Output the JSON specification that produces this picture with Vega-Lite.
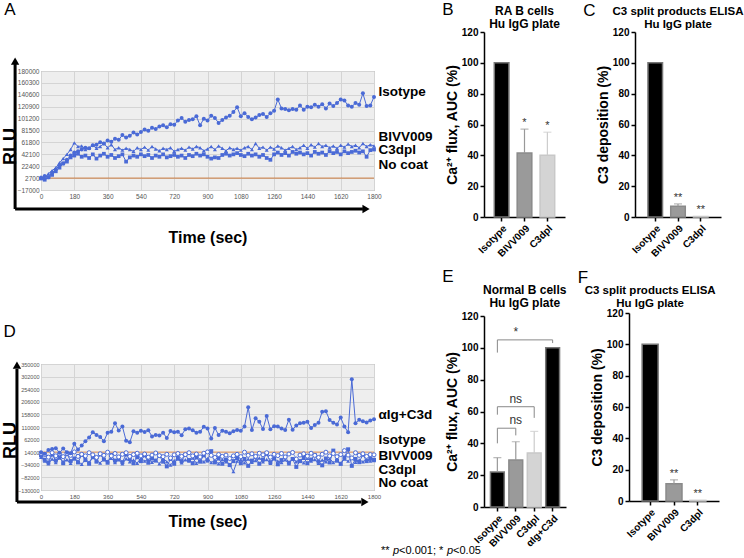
{
"$schema": "https://vega.github.io/schema/vega-lite/v6.json",
"padding": 0,
"config": {"font": "Liberation Sans", "view": {"stroke": null}, "axis": {"labelOverlap": false}, "title": {"fontWeight": "normal", "fontSize": 17, "anchor": "start", "frame": "bounds", "color": "#000"}},
"datasets": {
"aNo": [{"t":0,"v":2700},{"t":1800,"v":2700}],
"dNo": [{"t":0,"v":14000},{"t":1800,"v":14000}],
"aIso": [{"t":0,"v":3000},{"t":20,"v":6000},{"t":40,"v":4000},{"t":60,"v":12000},{"t":80,"v":17000},{"t":100,"v":24000},{"t":120,"v":27000},{"t":140,"v":33000},{"t":160,"v":40000},{"t":180,"v":45000},{"t":200,"v":47000},{"t":220,"v":50000},{"t":240,"v":53000},{"t":260,"v":52000},{"t":280,"v":57000},{"t":300,"v":58000},{"t":320,"v":62000},{"t":340,"v":60000},{"t":360,"v":65000},{"t":380,"v":63000},{"t":400,"v":68000},{"t":420,"v":66000},{"t":440,"v":74000},{"t":460,"v":70000},{"t":480,"v":73000},{"t":500,"v":78000},{"t":520,"v":75000},{"t":540,"v":79000},{"t":560,"v":83000},{"t":580,"v":81000},{"t":600,"v":86000},{"t":620,"v":84000},{"t":640,"v":88000},{"t":660,"v":90000},{"t":680,"v":87000},{"t":700,"v":92000},{"t":720,"v":91000},{"t":740,"v":98000},{"t":760,"v":102000},{"t":780,"v":96000},{"t":800,"v":99000},{"t":820,"v":100000},{"t":840,"v":105000},{"t":860,"v":90000},{"t":880,"v":101000},{"t":900,"v":98000},{"t":920,"v":106000},{"t":940,"v":102000},{"t":960,"v":94000},{"t":980,"v":99000},{"t":1000,"v":103000},{"t":1020,"v":106000},{"t":1040,"v":112000},{"t":1060,"v":120000},{"t":1080,"v":105000},{"t":1100,"v":110000},{"t":1120,"v":104000},{"t":1140,"v":100000},{"t":1160,"v":103000},{"t":1180,"v":107000},{"t":1200,"v":109000},{"t":1220,"v":104000},{"t":1240,"v":110000},{"t":1260,"v":114000},{"t":1280,"v":133000},{"t":1300,"v":118000},{"t":1320,"v":117000},{"t":1340,"v":115000},{"t":1360,"v":117000},{"t":1380,"v":116000},{"t":1400,"v":123000},{"t":1420,"v":116000},{"t":1440,"v":121000},{"t":1460,"v":120000},{"t":1480,"v":124000},{"t":1500,"v":121000},{"t":1520,"v":125000},{"t":1540,"v":118000},{"t":1560,"v":126000},{"t":1580,"v":122000},{"t":1600,"v":127000},{"t":1620,"v":133000},{"t":1640,"v":131000},{"t":1660,"v":123000},{"t":1680,"v":121000},{"t":1700,"v":127000},{"t":1720,"v":124000},{"t":1740,"v":143000},{"t":1760,"v":122000},{"t":1780,"v":123000},{"t":1800,"v":137000}],
"aBiv": [{"t":0,"v":5000},{"t":20,"v":3000},{"t":40,"v":10000},{"t":60,"v":15000},{"t":80,"v":20000},{"t":100,"v":28000},{"t":120,"v":35000},{"t":140,"v":42000},{"t":160,"v":50000},{"t":180,"v":61000},{"t":200,"v":55000},{"t":220,"v":56000},{"t":240,"v":50000},{"t":260,"v":52000},{"t":280,"v":57000},{"t":300,"v":52000},{"t":320,"v":55000},{"t":340,"v":60000},{"t":360,"v":53000},{"t":380,"v":58000},{"t":400,"v":50000},{"t":420,"v":53000},{"t":440,"v":49000},{"t":460,"v":52000},{"t":480,"v":50000},{"t":500,"v":47000},{"t":520,"v":53000},{"t":540,"v":50000},{"t":560,"v":54000},{"t":580,"v":49000},{"t":600,"v":55000},{"t":620,"v":51000},{"t":640,"v":48000},{"t":660,"v":52000},{"t":680,"v":50000},{"t":700,"v":53000},{"t":720,"v":47000},{"t":740,"v":50000},{"t":760,"v":52000},{"t":780,"v":49000},{"t":800,"v":54000},{"t":820,"v":51000},{"t":840,"v":55000},{"t":860,"v":53000},{"t":880,"v":48000},{"t":900,"v":51000},{"t":920,"v":55000},{"t":940,"v":50000},{"t":960,"v":56000},{"t":980,"v":52000},{"t":1000,"v":48000},{"t":1020,"v":53000},{"t":1040,"v":50000},{"t":1060,"v":52000},{"t":1080,"v":49000},{"t":1100,"v":53000},{"t":1120,"v":55000},{"t":1140,"v":50000},{"t":1160,"v":60000},{"t":1180,"v":52000},{"t":1200,"v":54000},{"t":1220,"v":49000},{"t":1240,"v":54000},{"t":1260,"v":51000},{"t":1280,"v":56000},{"t":1300,"v":53000},{"t":1320,"v":49000},{"t":1340,"v":52000},{"t":1360,"v":55000},{"t":1380,"v":50000},{"t":1400,"v":53000},{"t":1420,"v":57000},{"t":1440,"v":52000},{"t":1460,"v":58000},{"t":1480,"v":54000},{"t":1500,"v":60000},{"t":1520,"v":55000},{"t":1540,"v":57000},{"t":1560,"v":53000},{"t":1580,"v":56000},{"t":1600,"v":52000},{"t":1620,"v":57000},{"t":1640,"v":54000},{"t":1660,"v":59000},{"t":1680,"v":55000},{"t":1700,"v":57000},{"t":1720,"v":53000},{"t":1740,"v":60000},{"t":1760,"v":55000},{"t":1780,"v":58000},{"t":1800,"v":56000}],
"aC3": [{"t":0,"v":2000},{"t":20,"v":0},{"t":40,"v":4000},{"t":60,"v":8000},{"t":80,"v":14000},{"t":100,"v":20000},{"t":120,"v":27000},{"t":140,"v":30000},{"t":160,"v":37000},{"t":180,"v":40000},{"t":200,"v":43000},{"t":220,"v":38000},{"t":240,"v":40000},{"t":260,"v":36000},{"t":280,"v":42000},{"t":300,"v":35000},{"t":320,"v":40000},{"t":340,"v":43000},{"t":360,"v":38000},{"t":380,"v":41000},{"t":400,"v":36000},{"t":420,"v":39000},{"t":440,"v":42000},{"t":460,"v":30000},{"t":480,"v":37000},{"t":500,"v":40000},{"t":520,"v":38000},{"t":540,"v":42000},{"t":560,"v":39000},{"t":580,"v":41000},{"t":600,"v":36000},{"t":620,"v":40000},{"t":640,"v":38000},{"t":660,"v":42000},{"t":680,"v":37000},{"t":700,"v":39000},{"t":720,"v":41000},{"t":740,"v":38000},{"t":760,"v":40000},{"t":780,"v":36000},{"t":800,"v":41000},{"t":820,"v":39000},{"t":840,"v":43000},{"t":860,"v":40000},{"t":880,"v":42000},{"t":900,"v":38000},{"t":920,"v":35000},{"t":940,"v":37000},{"t":960,"v":36000},{"t":980,"v":41000},{"t":1000,"v":43000},{"t":1020,"v":40000},{"t":1040,"v":42000},{"t":1060,"v":44000},{"t":1080,"v":41000},{"t":1100,"v":39000},{"t":1120,"v":43000},{"t":1140,"v":40000},{"t":1160,"v":42000},{"t":1180,"v":38000},{"t":1200,"v":41000},{"t":1220,"v":36000},{"t":1240,"v":33000},{"t":1260,"v":42000},{"t":1280,"v":45000},{"t":1300,"v":41000},{"t":1320,"v":44000},{"t":1340,"v":40000},{"t":1360,"v":46000},{"t":1380,"v":43000},{"t":1400,"v":45000},{"t":1420,"v":42000},{"t":1440,"v":44000},{"t":1460,"v":40000},{"t":1480,"v":46000},{"t":1500,"v":43000},{"t":1520,"v":45000},{"t":1540,"v":41000},{"t":1560,"v":47000},{"t":1580,"v":44000},{"t":1600,"v":46000},{"t":1620,"v":42000},{"t":1640,"v":47000},{"t":1660,"v":44000},{"t":1680,"v":46000},{"t":1700,"v":48000},{"t":1720,"v":45000},{"t":1740,"v":47000},{"t":1760,"v":38000},{"t":1780,"v":49000},{"t":1800,"v":50000}],
"dIg": [{"t":0,"v":14000},{"t":20,"v":8000},{"t":40,"v":22000},{"t":60,"v":26000},{"t":80,"v":29000},{"t":100,"v":12000},{"t":120,"v":28000},{"t":140,"v":14000},{"t":160,"v":10000},{"t":180,"v":46000},{"t":200,"v":24000},{"t":220,"v":40000},{"t":240,"v":56000},{"t":260,"v":70000},{"t":280,"v":90000},{"t":300,"v":80000},{"t":320,"v":72000},{"t":340,"v":56000},{"t":360,"v":88000},{"t":380,"v":92000},{"t":400,"v":124000},{"t":420,"v":97000},{"t":440,"v":112000},{"t":460,"v":58000},{"t":480,"v":52000},{"t":500,"v":94000},{"t":520,"v":88000},{"t":540,"v":96000},{"t":560,"v":91000},{"t":580,"v":98000},{"t":600,"v":74000},{"t":620,"v":80000},{"t":640,"v":78000},{"t":660,"v":88000},{"t":680,"v":68000},{"t":700,"v":95000},{"t":720,"v":90000},{"t":740,"v":92000},{"t":760,"v":79000},{"t":780,"v":101000},{"t":800,"v":104000},{"t":820,"v":98000},{"t":840,"v":88000},{"t":860,"v":92000},{"t":880,"v":111000},{"t":900,"v":104000},{"t":920,"v":66000},{"t":940,"v":106000},{"t":960,"v":80000},{"t":980,"v":96000},{"t":1000,"v":92000},{"t":1020,"v":86000},{"t":1040,"v":94000},{"t":1060,"v":99000},{"t":1080,"v":96000},{"t":1100,"v":112000},{"t":1120,"v":185000},{"t":1140,"v":99000},{"t":1160,"v":143000},{"t":1180,"v":130000},{"t":1200,"v":102000},{"t":1220,"v":152000},{"t":1240,"v":101000},{"t":1260,"v":113000},{"t":1280,"v":112000},{"t":1300,"v":104000},{"t":1320,"v":99000},{"t":1340,"v":138000},{"t":1360,"v":100000},{"t":1380,"v":116000},{"t":1400,"v":124000},{"t":1420,"v":126000},{"t":1440,"v":130000},{"t":1460,"v":106000},{"t":1480,"v":118000},{"t":1500,"v":126000},{"t":1520,"v":168000},{"t":1540,"v":170000},{"t":1560,"v":137000},{"t":1580,"v":126000},{"t":1600,"v":120000},{"t":1620,"v":146000},{"t":1640,"v":112000},{"t":1660,"v":90000},{"t":1680,"v":292000},{"t":1700,"v":124000},{"t":1720,"v":138000},{"t":1740,"v":132000},{"t":1760,"v":127000},{"t":1780,"v":135000},{"t":1800,"v":140000}],
"dIso": [{"t":0,"v":10000},{"t":20,"v":5000},{"t":40,"v":-5000},{"t":60,"v":12000},{"t":80,"v":0},{"t":100,"v":8000},{"t":120,"v":-3000},{"t":140,"v":10000},{"t":160,"v":2000},{"t":180,"v":15000},{"t":200,"v":-2000},{"t":220,"v":6000},{"t":240,"v":0},{"t":260,"v":12000},{"t":280,"v":4000},{"t":300,"v":-6000},{"t":320,"v":8000},{"t":340,"v":2000},{"t":360,"v":14000},{"t":380,"v":0},{"t":400,"v":9000},{"t":420,"v":-4000},{"t":440,"v":6000},{"t":460,"v":12000},{"t":480,"v":-2000},{"t":500,"v":5000},{"t":520,"v":10000},{"t":540,"v":0},{"t":560,"v":7000},{"t":580,"v":-5000},{"t":600,"v":3000},{"t":620,"v":11000},{"t":640,"v":1000},{"t":660,"v":-3000},{"t":680,"v":6000},{"t":700,"v":-8000},{"t":720,"v":4000},{"t":740,"v":9000},{"t":760,"v":-2000},{"t":780,"v":5000},{"t":800,"v":12000},{"t":820,"v":0},{"t":840,"v":7000},{"t":860,"v":-4000},{"t":880,"v":10000},{"t":900,"v":15000},{"t":920,"v":2000},{"t":940,"v":-6000},{"t":960,"v":5000},{"t":980,"v":-2000},{"t":1000,"v":3000},{"t":1020,"v":-10000},{"t":1040,"v":0},{"t":1060,"v":6000},{"t":1080,"v":-3000},{"t":1100,"v":14000},{"t":1120,"v":2000},{"t":1140,"v":8000},{"t":1160,"v":-2000},{"t":1180,"v":10000},{"t":1200,"v":4000},{"t":1220,"v":12000},{"t":1240,"v":-5000},{"t":1260,"v":6000},{"t":1280,"v":1000},{"t":1300,"v":9000},{"t":1320,"v":-4000},{"t":1340,"v":7000},{"t":1360,"v":13000},{"t":1380,"v":-12000},{"t":1400,"v":3000},{"t":1420,"v":8000},{"t":1440,"v":-1000},{"t":1460,"v":10000},{"t":1480,"v":2000},{"t":1500,"v":-6000},{"t":1520,"v":6000},{"t":1540,"v":14000},{"t":1560,"v":0},{"t":1580,"v":9000},{"t":1600,"v":-3000},{"t":1620,"v":5000},{"t":1640,"v":20000},{"t":1660,"v":3000},{"t":1680,"v":-8000},{"t":1700,"v":12000},{"t":1720,"v":2000},{"t":1740,"v":8000},{"t":1760,"v":-2000},{"t":1780,"v":5000},{"t":1800,"v":4000}],
"dBiv": [{"t":0,"v":-5000},{"t":20,"v":-20000},{"t":40,"v":-30000},{"t":60,"v":-12000},{"t":80,"v":-25000},{"t":100,"v":-8000},{"t":120,"v":-22000},{"t":140,"v":-15000},{"t":160,"v":-28000},{"t":180,"v":-10000},{"t":200,"v":-20000},{"t":220,"v":-32000},{"t":240,"v":-14000},{"t":260,"v":-24000},{"t":280,"v":-6000},{"t":300,"v":-18000},{"t":320,"v":-27000},{"t":340,"v":-12000},{"t":360,"v":-20000},{"t":380,"v":-9000},{"t":400,"v":-25000},{"t":420,"v":-15000},{"t":440,"v":-30000},{"t":460,"v":-11000},{"t":480,"v":-22000},{"t":500,"v":-16000},{"t":520,"v":-28000},{"t":540,"v":-8000},{"t":560,"v":-20000},{"t":580,"v":-13000},{"t":600,"v":-24000},{"t":620,"v":-17000},{"t":640,"v":-30000},{"t":660,"v":-10000},{"t":680,"v":-22000},{"t":700,"v":-35000},{"t":720,"v":-18000},{"t":740,"v":-12000},{"t":760,"v":-26000},{"t":780,"v":-15000},{"t":800,"v":-20000},{"t":820,"v":-8000},{"t":840,"v":-28000},{"t":860,"v":-16000},{"t":880,"v":-22000},{"t":900,"v":-10000},{"t":920,"v":-25000},{"t":940,"v":-18000},{"t":960,"v":-30000},{"t":980,"v":-14000},{"t":1000,"v":-22000},{"t":1020,"v":-33000},{"t":1040,"v":-60000},{"t":1060,"v":-20000},{"t":1080,"v":-15000},{"t":1100,"v":-26000},{"t":1120,"v":-12000},{"t":1140,"v":-24000},{"t":1160,"v":-18000},{"t":1180,"v":-8000},{"t":1200,"v":-22000},{"t":1220,"v":-14000},{"t":1240,"v":-28000},{"t":1260,"v":-10000},{"t":1280,"v":-20000},{"t":1300,"v":-25000},{"t":1320,"v":-15000},{"t":1340,"v":-30000},{"t":1360,"v":-12000},{"t":1380,"v":-22000},{"t":1400,"v":-18000},{"t":1420,"v":-26000},{"t":1440,"v":-9000},{"t":1460,"v":-20000},{"t":1480,"v":-14000},{"t":1500,"v":-28000},{"t":1520,"v":-16000},{"t":1540,"v":-22000},{"t":1560,"v":-10000},{"t":1580,"v":-25000},{"t":1600,"v":-18000},{"t":1620,"v":-30000},{"t":1640,"v":-12000},{"t":1660,"v":-20000},{"t":1680,"v":-8000},{"t":1700,"v":-24000},{"t":1720,"v":-16000},{"t":1740,"v":-22000},{"t":1760,"v":-14000},{"t":1780,"v":-20000},{"t":1800,"v":-18000}],
"dC3": [{"t":0,"v":2000},{"t":20,"v":-15000},{"t":40,"v":-25000},{"t":60,"v":5000},{"t":80,"v":-18000},{"t":100,"v":-3000},{"t":120,"v":-28000},{"t":140,"v":8000},{"t":160,"v":-20000},{"t":180,"v":-10000},{"t":200,"v":-25000},{"t":220,"v":4000},{"t":240,"v":-16000},{"t":260,"v":-30000},{"t":280,"v":-2000},{"t":300,"v":-22000},{"t":320,"v":6000},{"t":340,"v":-14000},{"t":360,"v":-26000},{"t":380,"v":3000},{"t":400,"v":-18000},{"t":420,"v":-8000},{"t":440,"v":-24000},{"t":460,"v":5000},{"t":480,"v":-12000},{"t":500,"v":-28000},{"t":520,"v":-5000},{"t":540,"v":-20000},{"t":560,"v":2000},{"t":580,"v":-26000},{"t":600,"v":-10000},{"t":620,"v":-18000},{"t":640,"v":0},{"t":660,"v":-22000},{"t":680,"v":-40000},{"t":700,"v":-12000},{"t":720,"v":-30000},{"t":740,"v":-8000},{"t":760,"v":-20000},{"t":780,"v":4000},{"t":800,"v":-16000},{"t":820,"v":-28000},{"t":840,"v":-6000},{"t":860,"v":-22000},{"t":880,"v":2000},{"t":900,"v":-18000},{"t":920,"v":18000},{"t":940,"v":-25000},{"t":960,"v":-10000},{"t":980,"v":-30000},{"t":1000,"v":-15000},{"t":1020,"v":-35000},{"t":1040,"v":-20000},{"t":1060,"v":-8000},{"t":1080,"v":-28000},{"t":1100,"v":-12000},{"t":1120,"v":-38000},{"t":1140,"v":-18000},{"t":1160,"v":-5000},{"t":1180,"v":-30000},{"t":1200,"v":-14000},{"t":1220,"v":8000},{"t":1240,"v":-24000},{"t":1260,"v":-10000},{"t":1280,"v":-32000},{"t":1300,"v":-16000},{"t":1320,"v":-4000},{"t":1340,"v":-26000},{"t":1360,"v":-12000},{"t":1380,"v":-42000},{"t":1400,"v":-20000},{"t":1420,"v":-8000},{"t":1440,"v":-28000},{"t":1460,"v":-14000},{"t":1480,"v":3000},{"t":1500,"v":-22000},{"t":1520,"v":-36000},{"t":1540,"v":-10000},{"t":1560,"v":-25000},{"t":1580,"v":20000},{"t":1600,"v":-18000},{"t":1620,"v":-30000},{"t":1640,"v":-6000},{"t":1660,"v":25000},{"t":1680,"v":-38000},{"t":1700,"v":-12000},{"t":1720,"v":-24000},{"t":1740,"v":5000},{"t":1760,"v":-20000},{"t":1780,"v":-10000},{"t":1800,"v":-15000}],
"bB": [{"g":"Isotype","m":100,"hi":100,"star":""},{"g":"BIVV009","m":41.5,"hi":57,"star":"*"},{"g":"C3dpl","m":40,"hi":55,"star":"*"}],
"cB": [{"g":"Isotype","m":100,"hi":100,"star":""},{"g":"BIVV009","m":7,"hi":8.5,"star":"**"},{"g":"C3dpl","m":0.4,"hi":0.4,"star":"**"}],
"eB": [{"g":"Isotype","m":22,"hi":31},{"g":"BIVV009","m":29.5,"hi":41},{"g":"C3dpl","m":34,"hi":47.5},{"g":"αIg+C3d","m":100,"hi":100}],
"eBr": [{"a":"Isotype","b":"BIVV009","y":49.5,"ya":40,"yb":45,"lab":"ns"},{"a":"Isotype","b":"C3dpl","y":63,"ya":58,"yb":56,"lab":"ns"},{"a":"Isotype","b":"αIg+C3d","y":105,"ya":97,"yb":103,"lab":"*"}],
"fB": [{"g":"Isotype","m":100,"hi":100,"star":""},{"g":"BIVV009","m":11,"hi":13.5,"star":"**"},{"g":"C3dpl","m":0.4,"hi":0.4,"star":"**"}]
},
"columns": 3,
"align": "none",
"bounds": "flush",
"spacing": {"row": 174, "column": 110},
"concat": [
{
 "width": 333, "height": 119,
 "view": {"fill": "#eeeeee", "stroke": "#9a9a9a"},
 "title": {"text": "A", "offset": 38, "dx": 3},
 "layer": [
  {"data": {"name": "aNo"}, "mark": {"type": "line", "color": "#cc7a3c", "strokeWidth": 1},
   "encoding": {
    "x": {"field": "t", "type": "quantitative", "scale": {"domain": [0, 1800], "nice": false, "zero": false},
      "axis": {"values": [0,180,360,540,720,900,1080,1260,1440,1620,1800], "tickCount": 30, "format": "d", "labelFontSize": 6.5, "labelColor": "#555", "ticks": false, "domain": false, "gridColor": "#d4d4d4", "labelPadding": 3, "labelFlush": false, "labelOverlap": false, "title": "Time (sec)", "titleFontSize": 16, "titleFontWeight": "bold", "titleColor": "#000", "titlePadding": 30}},
    "y": {"field": "v", "type": "quantitative", "scale": {"domain": [-17000, 180000], "nice": false, "zero": false},
      "axis": {"values": [180000,160300,140600,120900,101200,81500,61800,42100,22400,2700,-17000], "tickCount": 30, "format": "d", "labelFontSize": 6.5, "labelColor": "#555", "ticks": false, "domain": false, "gridColor": "#d4d4d4", "labelPadding": 2, "labelFlush": false, "labelOverlap": false, "title": "RLU", "titleFontSize": 18, "titleFontWeight": "bold", "titleColor": "#000", "titlePadding": -2, "titleY": 75}}
   }},
  {"data": {"name": "aC3"}, "encoding": {"x": {"field": "t", "type": "quantitative"}, "y": {"field": "v", "type": "quantitative", "axis": null}},
   "layer": [{"mark": {"type": "line", "color": "#4a6ad6", "strokeWidth": 1}}, {"mark": {"type": "point", "shape": "square", "filled": true, "opacity": 1, "color": "#4a6ad6", "size": 14}}]},
  {"data": {"name": "aBiv"}, "encoding": {"x": {"field": "t", "type": "quantitative"}, "y": {"field": "v", "type": "quantitative", "axis": null}},
   "layer": [{"mark": {"type": "line", "color": "#4a6ad6", "strokeWidth": 1}}, {"mark": {"type": "point", "shape": "triangle-up", "filled": true, "opacity": 1, "color": "#4a6ad6", "size": 16}}]},
  {"data": {"name": "aIso"}, "encoding": {"x": {"field": "t", "type": "quantitative"}, "y": {"field": "v", "type": "quantitative", "axis": null}},
   "layer": [{"mark": {"type": "line", "color": "#4a6ad6", "strokeWidth": 1}}, {"mark": {"type": "point", "shape": "circle", "filled": true, "opacity": 1, "color": "#4a6ad6", "size": 16}}]},
  {"data": {"values": [{}]}, "mark": {"type": "rule", "color": "#000", "strokeWidth": 3},
   "encoding": {"x": {"datum": -140}, "y": {"datum": -48460, "axis": {"orient": "right", "values": [145300, 72390, 49220, 26040], "tickCount": 30, "labelExpr": "datum.value == 145300 ? 'Isotype' : datum.value == 72390 ? 'BIVV009' : datum.value == 49220 ? 'C3dpl' : 'No coat'", "labelFontSize": 13.5, "labelFontWeight": "bold", "labelColor": "#000", "labelPadding": 4, "ticks": false, "domain": false, "grid": false, "title": null, "labelFlush": false, "labelOverlap": false, "labelBaseline": "middle"}}, "y2": {"datum": 191600}}},
  {"data": {"values": [{}]}, "mark": {"type": "rule", "color": "#000", "strokeWidth": 3},
   "encoding": {"x": {"datum": -140}, "x2": {"datum": 1740}, "y": {"datum": -48460, "axis": null}}},
  {"data": {"values": [{}]}, "mark": {"type": "point", "shape": "triangle-up", "filled": true, "color": "#000", "opacity": 1, "size": 70},
   "encoding": {"x": {"datum": -140}, "y": {"datum": 196500, "axis": null}}},
  {"data": {"values": [{}]}, "mark": {"type": "point", "shape": "triangle-right", "filled": true, "color": "#000", "opacity": 1, "size": 70},
   "encoding": {"x": {"datum": 1757}, "y": {"datum": -48460, "axis": null}}}
 ],
 "resolve": {"axis": {"y": "independent"}}
},
{
 "width": 41, "height": 71,
 "title": {"text": "B", "offset": -14, "dx": -3},
 "layer": [
  {"data": {"name": "bB"}, "mark": {"type": "bar", "strokeWidth": 1.5},
   "encoding": {
    "x": {"field": "g", "type": "nominal", "scale": {"domain": ["Isotype","BIVV009","C3dpl"], "range": [0, 81], "paddingInner": 0.36, "paddingOuter": 0.45},
      "axis": {"labelAngle": -45, "labelFontSize": 10, "labelFontWeight": "bold", "labelColor": "#000", "domainColor": "#000", "domainWidth": 1.5, "tickColor": "#000", "tickWidth": 1.5, "tickSize": 4, "offset": 75, "title": null, "labelPadding": 2}},
    "y": {"field": "m", "type": "quantitative", "scale": {"domain": [0, 120], "range": [146, -39], "nice": false},
      "axis": {"values": [0,20,40,60,80,100,120], "tickCount": 30, "grid": false, "labelFontSize": 10, "labelFontWeight": "bold", "labelColor": "#000", "domainColor": "#000", "domainWidth": 1.5, "tickColor": "#000", "tickWidth": 1.5, "tickSize": 4, "labelFlush": false, "labelOverlap": false, "title": "Ca²⁺ flux,  AUC (%)", "titleFontSize": 14, "titleFontWeight": "bold", "titleColor": "#000", "titlePadding": 2}},
    "fill": {"field": "g", "type": "nominal", "scale": {"domain": ["Isotype","BIVV009","C3dpl"], "range": ["#000000","#9a9a9a","#d4d4d4"]}, "legend": null},
    "stroke": {"field": "g", "type": "nominal", "scale": {"domain": ["Isotype","BIVV009","C3dpl"], "range": ["#777777","#8a8a8a","#c8c8c8"]}, "legend": null}
   }},
  {"data": {"name": "bB"}, "transform": [{"filter": "datum.hi > datum.m"}], "mark": {"type": "rule", "strokeWidth": 1.2},
   "encoding": {"x": {"field": "g", "type": "nominal"}, "y": {"field": "m", "type": "quantitative"}, "y2": {"field": "hi"}, "color": {"field": "g", "type": "nominal", "scale": {"domain": ["Isotype","BIVV009","C3dpl"], "range": ["#999999","#999999","#cccccc"]}, "legend": null}}},
  {"data": {"name": "bB"}, "transform": [{"filter": "datum.hi > datum.m"}], "mark": {"type": "tick", "thickness": 1.2, "size": 8},
   "encoding": {"x": {"field": "g", "type": "nominal"}, "y": {"field": "hi", "type": "quantitative"}, "color": {"field": "g", "type": "nominal", "legend": null}}},
  {"data": {"name": "bB"}, "transform": [{"filter": "datum.star != ''"}], "mark": {"type": "text", "baseline": "bottom", "dy": -1, "fontSize": 11, "color": "#333"},
   "encoding": {"x": {"field": "g", "type": "nominal"}, "y": {"field": "hi", "type": "quantitative"}, "text": {"field": "star"}}},
  {"data": {"values": [{}]}, "mark": {"type": "text", "fontSize": 12, "fontWeight": "bold", "lineHeight": 12.5, "baseline": "alphabetic", "color": "#000"},
   "encoding": {"x": {"datum": "BIVV009"}, "y": {"datum": 131}, "text": {"value": ["RA B cells", "Hu IgG plate"]}}}
 ]
},
{
 "width": 41, "height": 68,
 "title": {"text": "C", "offset": -14, "dx": -13},
 "layer": [
  {"data": {"name": "cB"}, "mark": {"type": "bar", "strokeWidth": 1.5},
   "encoding": {
    "x": {"field": "g", "type": "nominal", "scale": {"domain": ["Isotype","BIVV009","C3dpl"], "range": [0, 86], "paddingInner": 0.36, "paddingOuter": 0.57},
      "axis": {"labelAngle": -45, "labelFontSize": 10, "labelFontWeight": "bold", "labelColor": "#000", "domainColor": "#000", "domainWidth": 1.5, "tickColor": "#000", "tickWidth": 1.5, "tickSize": 4, "offset": 78, "title": null, "labelPadding": 2}},
    "y": {"field": "m", "type": "quantitative", "scale": {"domain": [0, 120], "range": [146, -39], "nice": false},
      "axis": {"values": [0,20,40,60,80,100,120], "tickCount": 30, "grid": false, "labelFontSize": 10, "labelFontWeight": "bold", "labelColor": "#000", "domainColor": "#000", "domainWidth": 1.5, "tickColor": "#000", "tickWidth": 1.5, "tickSize": 4, "labelFlush": false, "labelOverlap": false, "title": "C3 deposition (%)", "titleFontSize": 14, "titleFontWeight": "bold", "titleColor": "#000", "titlePadding": 2}},
    "fill": {"field": "g", "type": "nominal", "scale": {"domain": ["Isotype","BIVV009","C3dpl"], "range": ["#000000","#9a9a9a","#d4d4d4"]}, "legend": null},
    "stroke": {"field": "g", "type": "nominal", "scale": {"domain": ["Isotype","BIVV009","C3dpl"], "range": ["#777777","#8a8a8a","#c8c8c8"]}, "legend": null}
   }},
  {"data": {"name": "cB"}, "transform": [{"filter": "datum.hi > datum.m"}], "mark": {"type": "rule", "strokeWidth": 1.2},
   "encoding": {"x": {"field": "g", "type": "nominal"}, "y": {"field": "m", "type": "quantitative"}, "y2": {"field": "hi"}, "color": {"field": "g", "type": "nominal", "scale": {"domain": ["Isotype","BIVV009","C3dpl"], "range": ["#999999","#999999","#cccccc"]}, "legend": null}}},
  {"data": {"name": "cB"}, "transform": [{"filter": "datum.hi > datum.m"}], "mark": {"type": "tick", "thickness": 1.2, "size": 8},
   "encoding": {"x": {"field": "g", "type": "nominal"}, "y": {"field": "hi", "type": "quantitative"}, "color": {"field": "g", "type": "nominal", "legend": null}}},
  {"data": {"name": "cB"}, "transform": [{"filter": "datum.star != ''"}], "mark": {"type": "text", "baseline": "bottom", "dy": -1, "fontSize": 11, "color": "#333"},
   "encoding": {"x": {"field": "g", "type": "nominal"}, "y": {"field": "hi", "type": "quantitative"}, "text": {"field": "star"}}},
  {"data": {"values": [{}]}, "mark": {"type": "text", "fontSize": 11.5, "fontWeight": "bold", "lineHeight": 12.5, "baseline": "alphabetic", "color": "#000"},
   "encoding": {"x": {"datum": "BIVV009"}, "y": {"datum": 131}, "text": {"value": ["C3 split products ELISA", "Hu IgG plate"]}}}
 ]
},
{
 "width": 333, "height": 126,
 "view": {"fill": "#eeeeee", "stroke": "#9a9a9a"},
 "title": {"text": "D", "offset": 20, "dx": 2},
 "layer": [
  {"data": {"name": "dNo"}, "mark": {"type": "line", "color": "#e0a070", "strokeWidth": 1.2},
   "encoding": {
    "x": {"field": "t", "type": "quantitative", "scale": {"domain": [0, 1800], "nice": false, "zero": false},
      "axis": {"values": [0,180,360,540,720,900,1080,1260,1440,1620,1800], "tickCount": 30, "format": "d", "labelFontSize": 6, "labelColor": "#555", "ticks": false, "domain": false, "gridColor": "#d4d4d4", "labelPadding": 3, "labelFlush": false, "labelOverlap": false, "title": "Time (sec)", "titleFontSize": 16, "titleFontWeight": "bold", "titleColor": "#000", "titlePadding": 14}},
    "y": {"field": "v", "type": "quantitative", "scale": {"domain": [-130000, 350000], "nice": false, "zero": false},
      "axis": {"values": [350000,302000,254000,206000,158000,110000,62000,14000,-34000,-82000,-130000], "tickCount": 30, "format": "d", "labelFontSize": 5.5, "labelColor": "#555", "ticks": false, "domain": false, "gridColor": "#d4d4d4", "labelPadding": 2, "labelFlush": false, "labelOverlap": false, "title": "RLU", "titleFontSize": 18, "titleFontWeight": "bold", "titleColor": "#000", "titlePadding": -2, "titleY": 76}}
   }},
  {"data": {"name": "dBiv"}, "encoding": {"x": {"field": "t", "type": "quantitative"}, "y": {"field": "v", "type": "quantitative", "axis": null}},
   "layer": [{"mark": {"type": "line", "color": "#4a6ad6", "strokeWidth": 1}}, {"mark": {"type": "point", "shape": "triangle-up", "filled": true, "opacity": 1, "color": "#4a6ad6", "size": 16}}]},
  {"data": {"name": "dC3"}, "encoding": {"x": {"field": "t", "type": "quantitative"}, "y": {"field": "v", "type": "quantitative", "axis": null}},
   "layer": [{"mark": {"type": "line", "color": "#4a6ad6", "strokeWidth": 1}}, {"mark": {"type": "point", "shape": "square", "filled": true, "opacity": 1, "color": "#4a6ad6", "size": 16}}]},
  {"data": {"name": "dIso"}, "encoding": {"x": {"field": "t", "type": "quantitative"}, "y": {"field": "v", "type": "quantitative", "axis": null}},
   "layer": [{"mark": {"type": "line", "color": "#7f98e6", "strokeWidth": 1}}, {"mark": {"type": "point", "shape": "circle", "filled": true, "opacity": 1, "fill": "#ffffff", "stroke": "#4a6ad6", "strokeWidth": 1, "size": 16}}]},
  {"data": {"name": "dIg"}, "encoding": {"x": {"field": "t", "type": "quantitative"}, "y": {"field": "v", "type": "quantitative", "axis": null}},
   "layer": [{"mark": {"type": "line", "color": "#4a6ad6", "strokeWidth": 1}}, {"mark": {"type": "point", "shape": "circle", "filled": true, "opacity": 1, "color": "#4a6ad6", "size": 16}}]},
  {"data": {"values": [{}]}, "mark": {"type": "rule", "color": "#000", "strokeWidth": 3},
   "encoding": {"x": {"datum": -130}, "y": {"datum": -175700, "axis": {"orient": "right", "values": [159500, 60500, 3300, -50000, -103300], "tickCount": 30, "labelExpr": "datum.value == 159500 ? 'αIg+C3d' : datum.value == 60500 ? 'Isotype' : datum.value == 3300 ? 'BIVV009' : datum.value == -50000 ? 'C3dpl' : 'No coat'", "labelFontSize": 13.5, "labelFontWeight": "bold", "labelColor": "#000", "labelPadding": 4, "ticks": false, "domain": false, "grid": false, "title": null, "labelFlush": false, "labelOverlap": false, "labelBaseline": "middle"}}, "y2": {"datum": 331000}}},
  {"data": {"values": [{}]}, "mark": {"type": "rule", "color": "#000", "strokeWidth": 3},
   "encoding": {"x": {"datum": -130}, "x2": {"datum": 1730}, "y": {"datum": -175700, "axis": null}}},
  {"data": {"values": [{}]}, "mark": {"type": "point", "shape": "triangle-up", "filled": true, "color": "#000", "opacity": 1, "size": 70},
   "encoding": {"x": {"datum": -130}, "y": {"datum": 346000, "axis": null}}},
  {"data": {"values": [{}]}, "mark": {"type": "point", "shape": "triangle-right", "filled": true, "color": "#000", "opacity": 1, "size": 70},
   "encoding": {"x": {"datum": 1751}, "y": {"datum": -175700, "axis": null}}},
  {"data": {"values": [{}]}, "mark": {"type": "text", "align": "left", "baseline": "middle", "fontSize": 11, "color": "#000"},
   "encoding": {"x": {"datum": 1838}, "y": {"datum": -362400, "axis": null}, "text": {"value": "**"}}},
  {"data": {"values": [{}]}, "mark": {"type": "text", "align": "left", "baseline": "middle", "fontSize": 11, "fontStyle": "italic", "color": "#000", "dx": 12},
   "encoding": {"x": {"datum": 1838}, "y": {"datum": -362400, "axis": null}, "text": {"value": "p"}}},
  {"data": {"values": [{}]}, "mark": {"type": "text", "align": "left", "baseline": "middle", "fontSize": 11, "color": "#000", "dx": 18},
   "encoding": {"x": {"datum": 1838}, "y": {"datum": -362400, "axis": null}, "text": {"value": "<0.001; *"}}},
  {"data": {"values": [{}]}, "mark": {"type": "text", "align": "left", "baseline": "middle", "fontSize": 11, "fontStyle": "italic", "color": "#000", "dx": 66},
   "encoding": {"x": {"datum": 1838}, "y": {"datum": -362400, "axis": null}, "text": {"value": "p"}}},
  {"data": {"values": [{}]}, "mark": {"type": "text", "align": "left", "baseline": "middle", "fontSize": 11, "color": "#000", "dx": 72},
   "encoding": {"x": {"datum": 1838}, "y": {"datum": -362400, "axis": null}, "text": {"value": "<0.05"}}}
 ],
 "resolve": {"axis": {"y": "independent"}}
},
{
 "width": 35, "height": 100,
 "title": {"text": "E", "offset": -2, "dx": -3},
 "layer": [
  {"data": {"name": "eB"}, "mark": {"type": "bar", "strokeWidth": 1.5},
   "encoding": {
    "x": {"field": "g", "type": "nominal", "scale": {"domain": ["Isotype","BIVV009","C3dpl","αIg+C3d"], "range": [0, 82], "paddingInner": 0.25, "paddingOuter": 0.35},
      "axis": {"labelAngle": -45, "labelFontSize": 10, "labelFontWeight": "bold", "labelColor": "#000", "domainColor": "#000", "domainWidth": 1.5, "tickColor": "#000", "tickWidth": 1.5, "tickSize": 4, "offset": 43, "title": null, "labelPadding": 2}},
    "y": {"field": "m", "type": "quantitative", "scale": {"domain": [0, 120], "range": [143, -48], "nice": false},
      "axis": {"values": [0,20,40,60,80,100,120], "tickCount": 30, "grid": false, "labelFontSize": 10, "labelFontWeight": "bold", "labelColor": "#000", "domainColor": "#000", "domainWidth": 1.5, "tickColor": "#000", "tickWidth": 1.5, "tickSize": 4, "labelFlush": false, "labelOverlap": false, "title": "Ca²⁺ flux,  AUC (%)", "titleFontSize": 14, "titleFontWeight": "bold", "titleColor": "#000", "titlePadding": 2}},
    "fill": {"field": "g", "type": "nominal", "scale": {"domain": ["Isotype","BIVV009","C3dpl","αIg+C3d"], "range": ["#000000","#9a9a9a","#d4d4d4","#7a7a7a"]}, "legend": null},
    "stroke": {"field": "g", "type": "nominal", "scale": {"domain": ["Isotype","BIVV009","C3dpl","αIg+C3d"], "range": ["#777777","#8a8a8a","#c8c8c8","#111111"]}, "legend": null}
   }},
  {"data": {"name": "eB"}, "transform": [{"filter": "datum.hi > datum.m"}], "mark": {"type": "rule", "strokeWidth": 1.2},
   "encoding": {"x": {"field": "g", "type": "nominal"}, "y": {"field": "m", "type": "quantitative"}, "y2": {"field": "hi"}, "color": {"field": "g", "type": "nominal", "scale": {"domain": ["Isotype","BIVV009","C3dpl","αIg+C3d"], "range": ["#aaaaaa","#999999","#cccccc","#555555"]}, "legend": null}}},
  {"data": {"name": "eB"}, "transform": [{"filter": "datum.hi > datum.m"}], "mark": {"type": "tick", "thickness": 1.2, "size": 8},
   "encoding": {"x": {"field": "g", "type": "nominal"}, "y": {"field": "hi", "type": "quantitative"}, "color": {"field": "g", "type": "nominal", "legend": null}}},
  {"data": {"name": "eBr"}, "mark": {"type": "rule", "color": "#888888", "strokeWidth": 1},
   "encoding": {"x": {"field": "a", "type": "nominal"}, "x2": {"field": "b"}, "y": {"field": "y", "type": "quantitative"}}},
  {"data": {"name": "eBr"}, "mark": {"type": "rule", "color": "#888888", "strokeWidth": 1},
   "encoding": {"x": {"field": "a", "type": "nominal"}, "y": {"field": "ya", "type": "quantitative"}, "y2": {"field": "y"}}},
  {"data": {"name": "eBr"}, "mark": {"type": "rule", "color": "#888888", "strokeWidth": 1},
   "encoding": {"x": {"field": "b", "type": "nominal"}, "y": {"field": "yb", "type": "quantitative"}, "y2": {"field": "y"}}},
  {"data": {"name": "eBr"}, "mark": {"type": "text", "baseline": "bottom", "dy": -1, "fontSize": 12, "color": "#333"},
   "encoding": {"x": {"datum": "BIVV009"}, "y": {"field": "y", "type": "quantitative"}, "text": {"field": "lab"}}},
  {"data": {"values": [{}]}, "mark": {"type": "text", "fontSize": 12, "fontWeight": "bold", "lineHeight": 12.5, "baseline": "alphabetic", "color": "#000", "dx": 9},
   "encoding": {"x": {"datum": "BIVV009"}, "y": {"datum": 133.8}, "text": {"value": ["Normal B cells", "Hu IgG plate"]}}}
 ]
},
{
 "width": 35, "height": 100,
 "title": {"text": "F", "offset": -2, "dx": -7},
 "layer": [
  {"data": {"name": "fB"}, "mark": {"type": "bar", "strokeWidth": 1.5},
   "encoding": {
    "x": {"field": "g", "type": "nominal", "scale": {"domain": ["Isotype","BIVV009","C3dpl"], "range": [-6, 84], "paddingInner": 0.33, "paddingOuter": 0.55},
      "axis": {"labelAngle": -45, "labelFontSize": 10, "labelFontWeight": "bold", "labelColor": "#000", "domainColor": "#000", "domainWidth": 1.5, "tickColor": "#000", "tickWidth": 1.5, "tickSize": 4, "offset": 37, "title": null, "labelPadding": 2}},
    "y": {"field": "m", "type": "quantitative", "scale": {"domain": [0, 120], "range": [137, -51], "nice": false},
      "axis": {"values": [0,20,40,60,80,100,120], "tickCount": 30, "offset": 6, "grid": false, "labelFontSize": 10, "labelFontWeight": "bold", "labelColor": "#000", "domainColor": "#000", "domainWidth": 1.5, "tickColor": "#000", "tickWidth": 1.5, "tickSize": 4, "labelFlush": false, "labelOverlap": false, "title": "C3 deposition (%)", "titleFontSize": 14, "titleFontWeight": "bold", "titleColor": "#000", "titlePadding": 2}},
    "fill": {"field": "g", "type": "nominal", "scale": {"domain": ["Isotype","BIVV009","C3dpl"], "range": ["#000000","#9a9a9a","#d4d4d4"]}, "legend": null},
    "stroke": {"field": "g", "type": "nominal", "scale": {"domain": ["Isotype","BIVV009","C3dpl"], "range": ["#777777","#8a8a8a","#c8c8c8"]}, "legend": null}
   }},
  {"data": {"name": "fB"}, "transform": [{"filter": "datum.hi > datum.m"}], "mark": {"type": "rule", "strokeWidth": 1.2},
   "encoding": {"x": {"field": "g", "type": "nominal"}, "y": {"field": "m", "type": "quantitative"}, "y2": {"field": "hi"}, "color": {"field": "g", "type": "nominal", "scale": {"domain": ["Isotype","BIVV009","C3dpl"], "range": ["#999999","#999999","#cccccc"]}, "legend": null}}},
  {"data": {"name": "fB"}, "transform": [{"filter": "datum.hi > datum.m"}], "mark": {"type": "tick", "thickness": 1.2, "size": 8},
   "encoding": {"x": {"field": "g", "type": "nominal"}, "y": {"field": "hi", "type": "quantitative"}, "color": {"field": "g", "type": "nominal", "legend": null}}},
  {"data": {"name": "fB"}, "transform": [{"filter": "datum.star != ''"}], "mark": {"type": "text", "baseline": "bottom", "dy": -1, "fontSize": 11, "color": "#333"},
   "encoding": {"x": {"field": "g", "type": "nominal"}, "y": {"field": "hi", "type": "quantitative"}, "text": {"field": "star"}}},
  {"data": {"values": [{}]}, "mark": {"type": "text", "fontSize": 11.5, "fontWeight": "bold", "lineHeight": 12.5, "baseline": "alphabetic", "color": "#000"},
   "encoding": {"x": {"datum": "Isotype"}, "y": {"datum": 132}, "text": {"value": ["C3 split products ELISA", "Hu IgG plate"]}}}
 ]
}
]
}
